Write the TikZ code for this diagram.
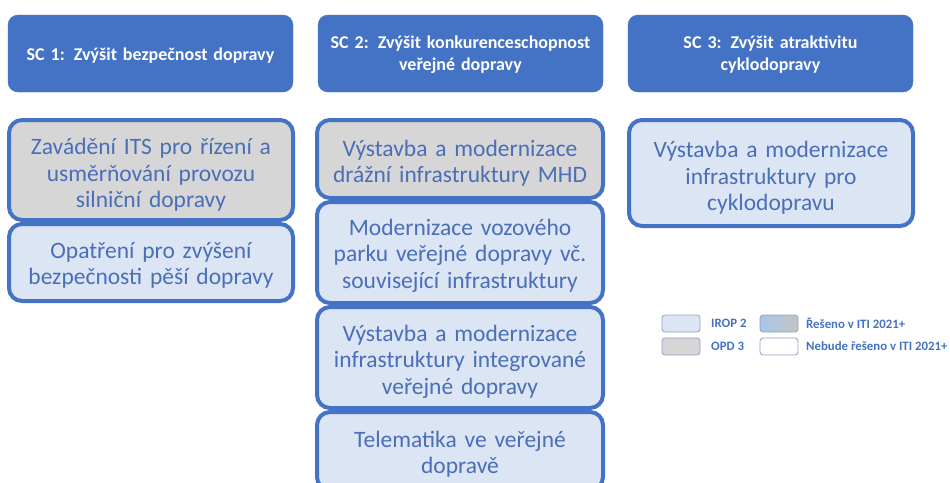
\documentclass[tikz,border=0pt]{standalone}
\usepackage{fontspec}
\setmainfont{Carlito}
\definecolor{sblue}{HTML}{4472C4}
\definecolor{greyfill}{HTML}{D6D6D6}
\definecolor{lblue}{HTML}{DCE5F4}
\definecolor{txtblue}{HTML}{4A6EB8}
\definecolor{legline}{HTML}{8FA2C2}
\definecolor{gradl}{HTML}{A8C5EA}
\definecolor{gradr}{HTML}{C4C4C4}
\begin{document}
\begin{tikzpicture}[x=1pt,y=-1pt,
  hdr/.style={rounded corners=10pt, fill=sblue, draw=sblue, minimum width=285, minimum height=77, inner sep=0pt},
  htxt/.style={text=white, font=\fontsize{18}{22}\selectfont\bfseries, align=center, text width=283, inner sep=0pt},
  cbox/.style={rounded corners=13pt, draw=sblue, line width=4pt, inner sep=0pt},
  ctxt/.style={text=txtblue, font=\fontsize{23.5}{26.5}\selectfont, align=center, text width=280, inner sep=0pt},
  gbox/.style={cbox, fill=greyfill},
  bbox/.style={cbox, fill=lblue},
  lbox/.style={draw=legline, line width=0.8pt, rounded corners=3pt, minimum width=38, minimum height=17, inner sep=0pt},
  ltxt/.style={text=sblue, font=\fontsize{12.8}{14}\selectfont\bfseries, anchor=west, inner sep=0pt}
]
\useasboundingbox[fill=white] (0,0) rectangle (950,482);
\clip (0,0) rectangle (950,482);

% headers
\node[hdr] (h1) at (150.5,53.5) {};
\node[hdr] (h2) at (460.5,53.5) {};
\node[hdr] (h3) at (770.5,53.5) {};
\node[htxt] (h1t) at ([yshift=-2pt]h1.center) {SC 1: Zvýšit bezpečnost dopravy};
\node[htxt] (h2t) at ([yshift=-1pt]h2.center) {SC 2: Zvýšit konkurenceschopnost\\veřejné dopravy};
\node[htxt] (h3t) at ([yshift=-1pt]h3.center) {SC 3: Zvýšit atraktivitu\\cyklodopravy};

% SC1
\node[gbox, minimum width=284, minimum height=100] (a1) at (151,170) {};
\node[ctxt] (a1t) at ([yshift=-5pt]a1.center) {Zavádění ITS pro řízení a\\usměrňování provozu\\silniční dopravy};
\node[bbox, minimum width=284, minimum height=77] (a2) at (151,262.5) {};
\node[ctxt] (a2t) at ([yshift=-3pt]a2.center) {Opatření pro zvýšení\\bezpečnosti pěší dopravy};

% SC2
\node[gbox, minimum width=286, minimum height=78] (b1) at (460,159) {};
\node[ctxt] (b1t) at ([yshift=-4pt]b1.center) {Výstavba a modernizace\\drážní infrastruktury MHD};
\node[bbox, minimum width=286, minimum height=101] (b2) at (460,252.5) {};
\node[ctxt] (b2t) at ([yshift=-3pt]b2.center) {Modernizace vozového\\parku veřejné dopravy vč.\\související infrastruktury};
\node[bbox, minimum width=286, minimum height=101] (b3) at (460,357.5) {};
\node[ctxt] (b3t) at ([yshift=-4pt]b3.center) {Výstavba a modernizace\\infrastruktury integrované\\veřejné dopravy};
\node[bbox, minimum width=286, minimum height=78] (b4) at (460,451) {};
\node[ctxt] (b4t) at ([yshift=-3pt]b4.center) {Telematika ve veřejné\\dopravě};

% SC3
\node[bbox, minimum width=284, minimum height=106] (c1) at (771,173) {};
\node[ctxt] (c1t) at ([yshift=-5pt]c1.center) {Výstavba a modernizace\\infrastruktury pro\\cyklodopravu};

% legend
\node[lbox, fill=lblue] (l1) at (681,323.5) {};
\node[lbox, fill=greyfill] (l2) at (681,346.5) {};
\node[lbox, left color=gradl, right color=gradr] (l3) at (779,323.5) {};
\node[lbox, fill=white] (l4) at (779,346.5) {};
\node[ltxt] (t1) at (711,323.5) {IROP 2};
\node[ltxt] (t2) at (711,346.5) {OPD 3};
\node[ltxt] (t3) at (806,323.5) {Řešeno v ITI 2021+};
\node[ltxt] (t4) at (806,346.5) {Nebude řešeno v ITI 2021+};
\end{tikzpicture}
\end{document}
